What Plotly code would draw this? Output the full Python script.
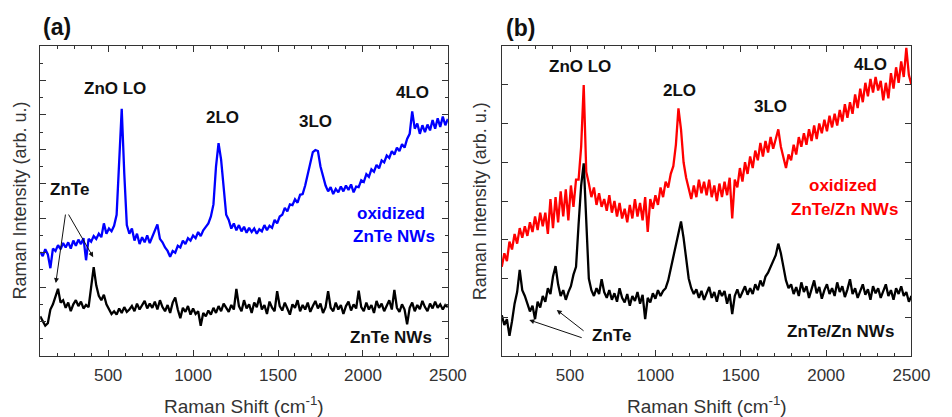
import plotly.graph_objects as go

# Raman shift grid (cm^-1)
shift = list(range(100, 2501, 15))

# (a) oxidized ZnTe NWs
a_oxidized = [
    3.02, 2.90, 3.10, 2.95, 2.55, 3.12, 3.05, 3.22, 3.10, 3.28,
    3.15, 3.30, 3.12, 3.35, 3.20, 3.38, 3.25, 3.42, 2.78, 3.40,
    3.32, 3.48, 3.40, 3.55, 3.45, 3.85, 3.55, 3.70, 3.62, 3.78,
    4.10, 5.90, 7.18, 5.30, 3.80, 3.55, 3.70, 3.35, 3.55, 3.25,
    3.45, 3.30, 3.50, 3.28, 3.45, 3.60, 3.82, 3.40, 3.30, 3.15,
    3.05, 2.88, 3.05, 3.00, 3.20, 3.15, 3.35, 3.25, 3.42, 3.35,
    3.50, 3.42, 3.60, 3.48, 3.65, 3.75, 3.85, 4.05, 4.40, 5.50,
    6.18, 5.70, 4.80, 4.10, 3.95, 3.70, 3.85, 3.65, 3.80, 3.62,
    3.75, 3.58, 3.72, 3.60, 3.70, 3.55, 3.68, 3.62, 3.80, 3.65,
    3.78, 3.72, 3.95, 3.85, 4.05, 4.10, 4.30, 4.20, 4.40, 4.38,
    4.55, 4.45, 4.68, 4.70, 4.95, 5.25, 5.60, 5.92, 5.98, 5.95,
    5.50, 5.20, 4.95, 4.78, 4.90, 4.70, 4.85, 4.75, 4.92, 4.78,
    4.95, 4.82, 4.98, 4.75, 4.92, 4.90, 5.10, 5.05, 5.28, 5.20,
    5.42, 5.35, 5.55, 5.45, 5.68, 5.62, 5.82, 5.75, 5.95, 5.85,
    6.05, 5.95, 6.15, 6.05, 6.30, 6.45, 7.10, 6.60, 6.75, 6.45,
    6.70, 6.50, 6.72, 6.55, 6.85, 6.60, 6.90, 6.65, 6.95, 6.70,
    6.88,
]

# (a) ZnTe NWs
a_pristine = [
    1.15, 1.00, 0.88, 0.95, 1.35, 1.50, 1.70, 1.95, 1.55, 1.62,
    1.40, 1.55, 1.30, 1.50, 1.62, 1.45, 1.58, 1.38, 1.48, 1.42,
    2.00, 2.58, 2.05, 1.75, 1.62, 1.78, 1.50, 1.35, 1.22, 1.30,
    1.20, 1.38, 1.25, 1.42, 1.28, 1.35, 1.45, 1.30, 1.52, 1.35,
    1.48, 1.60, 1.38, 1.52, 1.40, 1.58, 1.35, 1.62, 1.42, 1.30,
    1.48, 1.25, 1.55, 1.70, 1.35, 1.10, 1.40, 1.28, 1.45, 1.20,
    1.38, 1.22, 1.30, 0.88, 1.25, 1.15, 1.32, 1.20, 1.40, 1.25,
    1.45, 1.30, 1.52, 1.40, 1.28, 1.48, 1.35, 1.95, 1.45, 1.30,
    1.62, 1.38, 1.50, 1.25, 1.55, 1.42, 1.70, 1.35, 1.48, 1.22,
    1.58, 1.40, 1.30, 1.88, 1.45, 1.32, 1.55, 1.38, 1.20, 1.50,
    1.40, 1.62, 1.30, 1.48, 1.35, 1.55, 1.28, 1.45, 1.60, 1.38,
    1.52, 1.25, 1.42, 1.88, 1.40, 1.30, 1.55, 1.35, 1.48, 1.22,
    1.45, 1.58, 1.32, 1.50, 1.38, 1.90, 1.42, 1.30, 1.55, 1.35,
    1.48, 1.25, 1.60, 1.40, 1.52, 1.30, 1.45, 1.62, 1.35, 1.92,
    1.40, 1.28, 1.50, 1.35, 0.92, 1.40, 1.55, 1.30, 1.48, 1.36,
    1.60, 1.42, 1.30, 1.52, 1.38, 1.58, 1.40, 1.50, 1.35, 1.48,
    1.42,
]

# (b) oxidized ZnTe/Zn NWs
b_oxidized = [
    2.30, 2.65, 2.45, 2.95, 2.75, 3.15, 2.90, 3.30, 3.05, 3.35,
    3.10, 3.45, 3.20, 3.60, 3.25, 3.70, 3.35, 3.70, 3.15, 4.05,
    3.30, 4.10, 3.45, 4.25, 3.60, 4.30, 3.50, 4.40, 3.85, 4.55,
    4.55, 5.40, 6.99, 4.75, 4.45, 4.10, 4.35, 3.90, 4.20, 3.85,
    4.05, 3.75, 4.15, 3.70, 4.00, 3.60, 3.95, 3.55, 3.80, 3.45,
    3.90, 3.55, 4.05, 3.60, 3.95, 3.50, 4.10, 3.20, 4.05, 3.80,
    4.15, 3.90, 4.35, 4.10, 4.50, 4.35, 4.70, 4.90, 5.45, 6.39,
    5.85, 5.00, 4.60, 4.35, 4.05, 4.40, 4.10, 4.55, 4.20, 4.50,
    4.15, 4.55, 4.10, 4.40, 4.00, 4.45, 4.10, 4.50, 4.15, 4.60,
    3.55, 4.55, 4.35, 4.85, 4.50, 5.00, 4.70, 5.15, 4.85, 5.30,
    5.05, 5.50, 5.15, 5.55, 5.25, 5.65, 5.35, 5.60, 5.85, 5.40,
    5.10, 4.85, 5.20, 5.05, 5.45, 5.20, 5.65, 5.40, 5.75, 5.45,
    5.85, 5.55, 5.95, 5.60, 6.00, 5.75, 6.10, 5.80, 6.20, 5.90,
    6.25, 5.95, 6.35, 6.05, 6.50, 6.15, 6.55, 6.25, 6.75, 6.40,
    6.90, 6.55, 7.05, 6.70, 7.15, 6.80, 7.20, 6.85, 7.10, 6.60,
    7.05, 6.65, 7.30, 6.90, 7.45, 7.05, 7.60, 7.20, 7.95, 7.25,
    7.00,
]

# (b) ZnTe/Zn NWs
b_pristine = [
    1.05, 0.80, 0.95, 0.52, 0.90, 1.35, 1.65, 2.22, 1.70, 1.55,
    1.35, 1.15, 1.30, 0.95, 1.40, 1.25, 1.55, 1.40, 1.75, 1.60,
    2.05, 2.32, 1.85, 1.55, 1.70, 1.45, 1.65, 1.80, 2.10, 2.30,
    3.40, 4.40, 4.97, 3.30, 2.00, 1.70, 1.55, 1.75, 1.60, 1.98,
    1.65, 1.50, 1.70, 1.45, 1.62, 1.40, 1.75, 1.50, 1.38, 1.60,
    1.30, 1.55, 1.42, 1.65, 1.35, 1.58, 0.95, 1.50, 1.38, 1.62,
    1.48, 1.70, 1.55, 1.68, 1.75, 1.95, 2.25, 2.55, 2.85, 3.10,
    3.47, 3.05, 2.45, 2.00, 1.75, 1.60, 1.72, 1.50, 1.68, 1.45,
    1.62, 1.78, 1.50, 1.65, 1.40, 1.70, 1.55, 1.68, 1.35, 1.60,
    1.08, 1.55, 1.72, 1.50, 1.65, 1.80, 1.58, 1.75, 1.60, 1.85,
    1.70, 1.95, 1.80, 2.05, 2.15, 2.30, 2.45, 2.60, 2.90, 2.65,
    2.30, 1.95, 1.75, 1.85, 1.60, 1.78, 1.55, 1.90, 1.65, 1.80,
    1.50, 1.72, 1.95, 1.62, 1.78, 1.48, 1.70, 1.85, 1.60, 1.75,
    1.55, 1.90, 1.65, 1.80, 1.52, 1.72, 1.98, 1.60, 1.75, 1.50,
    1.70, 1.85, 1.58, 1.72, 1.45, 1.80, 1.62, 1.75, 1.50, 1.68,
    1.85, 1.55, 1.70, 1.45, 1.75, 1.60, 1.80, 1.55, 1.65, 1.40,
    1.55,
]

FONT = "Liberation Sans, Arial, sans-serif"
GRAY = "#333333"
LW = 2.3

fig = go.Figure()
fig.add_trace(go.Scatter(x=shift, y=a_oxidized, mode="lines",
                         line=dict(color="#0000ff", width=LW), xaxis="x", yaxis="y"))
fig.add_trace(go.Scatter(x=shift, y=a_pristine, mode="lines",
                         line=dict(color="#000000", width=LW), xaxis="x", yaxis="y"))
fig.add_trace(go.Scatter(x=shift, y=b_oxidized, mode="lines",
                         line=dict(color="#ff0000", width=LW), xaxis="x2", yaxis="y2"))
fig.add_trace(go.Scatter(x=shift, y=b_pristine, mode="lines",
                         line=dict(color="#000000", width=LW), xaxis="x2", yaxis="y2"))

W, H = 952, 417
ydom = [(H - 356) / H, (H - 46) / H]

xcommon = dict(range=[100, 2500], dtick=500, tick0=0, ticks="inside", ticklen=6,
               tickcolor=GRAY, showline=True, linecolor=GRAY, linewidth=1,
               mirror="ticks", showgrid=False, zeroline=False,
               tickfont=dict(family=FONT, size=17, color=GRAY),
               ticklabelstandoff=4,
               minor=dict(dtick=100, ticks="inside", ticklen=3, tickcolor=GRAY))
ycommon = dict(dtick=1, tick0=0, ticks="inside", ticklen=6, tickcolor=GRAY,
               showline=True, linecolor=GRAY, linewidth=1, mirror="ticks",
               showgrid=False, zeroline=False, showticklabels=False)

fig.update_layout(
    width=W, height=H,
    margin=dict(l=0, r=0, t=0, b=0),
    paper_bgcolor="white", plot_bgcolor="white",
    showlegend=False,
    xaxis=dict(domain=[41 / W, 457 / W], anchor="y", **xcommon),
    yaxis=dict(domain=ydom, anchor="x", range=[0, 9],
               minor=dict(dtick=0.5, ticks="inside", ticklen=3, tickcolor=GRAY),
               **ycommon),
    xaxis2=dict(domain=[512 / W, 930 / W], anchor="y2", **xcommon),
    yaxis2=dict(domain=ydom, anchor="x2", range=[0, 8], **ycommon),
)

ann = []

def label(text, x, y, xref, yref, size=17, color="#111111", bold=True, **kw):
    t = f"<b>{text}</b>" if bold else text
    ann.append(dict(text=t, x=x, y=y, xref=xref, yref=yref, showarrow=False,
                    font=dict(family=FONT, size=size, color=color),
                    xanchor="center", yanchor="middle", **kw))

# Panel letters
label("(a)", 58 / W, (H - 27) / H, "paper", "paper", size=23)
label("(b)", 531 / W, (H - 28) / H, "paper", "paper", size=23)

# Axis titles
for xc, yc in [((41 + 457) / 2, 20), ((512 + 930) / 2, 490)]:
    ann.append(dict(text="Raman Shift (cm<sup>-1</sup>)", x=xc / W, y=(H - 405) / H,
                    xref="paper", yref="paper", showarrow=False,
                    font=dict(family=FONT, size=19, color=GRAY),
                    xanchor="center", yanchor="middle"))
    ann.append(dict(text="Raman Intensity (arb. u.)", x=yc / W, y=(H - 201) / H,
                    xref="paper", yref="paper", showarrow=False, textangle=-90,
                    font=dict(family=FONT, size=18, color=GRAY),
                    xanchor="center", yanchor="middle"))

# Peak labels, panel (a)
label("ZnO LO", 539, 7.78, "x", "y")
label("2LO", 1173, 6.91, "x", "y")
label("3LO", 1721, 6.82, "x", "y")
label("4LO", 2293, 7.64, "x", "y")
label("ZnTe", 273, 4.82, "x", "y")
label("oxidized", 2166, 4.15, "x", "y", color="#0000ff")
label("ZnTe NWs", 2183, 3.46, "x", "y", color="#0000ff")
label("ZnTe NWs", 2166, 0.55, "x", "y")

# Peak labels, panel (b)
label("ZnO LO", 559, 7.46, "x2", "y2")
label("2LO", 1139, 6.86, "x2", "y2")
label("3LO", 1673, 6.43, "x2", "y2")
label("4LO", 2259, 7.51, "x2", "y2")
label("oxidized", 2098, 4.41, "x2", "y2", color="#ff0000")
label("ZnTe/Zn NWs", 2110, 3.77, "x2", "y2", color="#ff0000")
label("ZnTe/Zn NWs", 2087, 0.62, "x2", "y2")
label("ZnTe", 743, 0.54, "x2", "y2")

# ZnTe arrows
def arrow(xh, yh, xt, yt, xr, yr):
    ann.append(dict(text="", x=xh, y=yh, ax=xt, ay=yt, xref=xr, yref=yr,
                    axref=xr, ayref=yr, showarrow=True, arrowhead=2,
                    arrowsize=1, arrowwidth=1, arrowcolor="#111111"))

arrow(192, 2.12, 250, 4.15, "x", "y")
arrow(412, 2.87, 262, 4.15, "x", "y")
arrow(261, 0.93, 577, 0.46, "x2", "y2")
arrow(422, 1.19, 588, 0.62, "x2", "y2")

fig.update_layout(annotations=ann)
fig.write_html("out.html")
